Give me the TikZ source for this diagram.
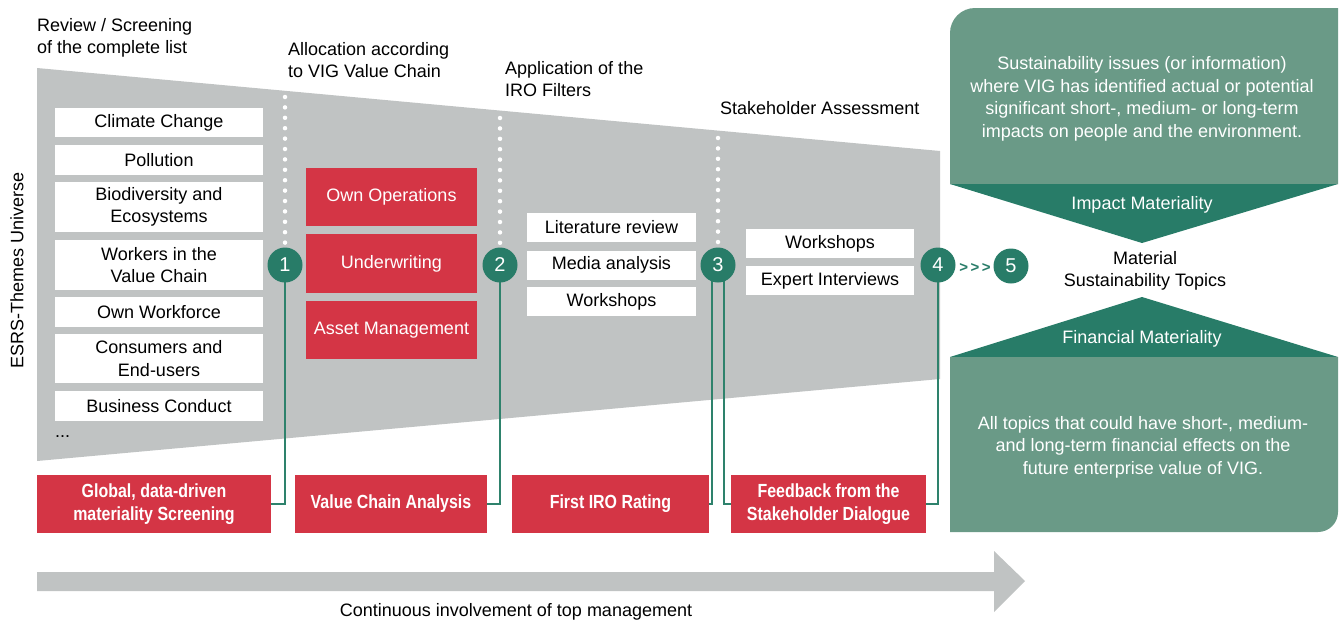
\documentclass[tikz,border=0pt]{standalone}
\usepackage{fontspec}
\setmainfont{Liberation Sans}
\newfontfamily\bnf{Liberation Sans}[FakeStretch=0.84]
\definecolor{vred}{RGB}{212,53,69}
\definecolor{vgray}{RGB}{192,195,195}
\definecolor{lgreen}{RGB}{106,154,135}
\definecolor{dgreen}{RGB}{40,124,104}
\definecolor{lgrn}{RGB}{46,130,108}
\pgfdeclarelayer{bg}
\pgfsetlayers{bg,main}
\tikzset{
  txt/.style={font=\fontsize{18}{22.5}\selectfont, text=black, inner sep=0pt},
  wbox/.style={txt, fill=white, minimum width=208pt, align=center},
  rbox/.style={txt, fill=vred, text=white, minimum width=171pt, minimum height=58pt, align=center},
  lbox/.style={txt, fill=white, minimum width=169pt, minimum height=29pt, align=center},
  sbox/.style={txt, fill=white, minimum width=168pt, minimum height=29pt, align=center},
  bbox/.style={font=\bnf\bfseries\fontsize{19}{23}\selectfont, fill=vred, text=white, minimum height=58pt, inner sep=0pt, align=center},
  num/.style={circle, fill=dgreen, text=white, minimum size=35pt, inner sep=0pt, font=\fontsize{20}{21}\selectfont},
  conn/.style={draw=lgrn, line width=1.8pt},
  dots/.style={draw=white, line width=4.5pt, line cap=round, dash pattern=on 0pt off 10.4pt},
  head/.style={txt, align=left, anchor=north west},
  wtxt/.style={txt, text=white, align=center},
}
\begin{document}
\begin{tikzpicture}[x=1pt,y=1pt]
\useasboundingbox (0,0) rectangle (1340,-624);
\begin{pgfonlayer}{bg}
\fill[vgray] (37,-68) -- (940,-151) -- (940,-379) -- (37,-461) -- cycle;
\draw[dots] (285,-97) -- (285,-246);
\draw[dots] (500,-118) -- (500,-246);
\draw[dots] (718,-138) -- (718,-246);
\end{pgfonlayer}
% headings
\node[head] (h1) at (37,-18) {Review / Screening\\of the complete list};
\node[head] (h2) at (288,-42) {Allocation according\\to VIG Value Chain};
\node[head] (h3) at (505,-61) {Application of the\\IRO Filters};
\node[head] (h4) at (720,-101) {Stakeholder Assessment};
\node[txt, rotate=90] (esrs) at (17,-270) {ESRS-Themes Universe};
% list
\node[wbox, minimum height=29pt] (cc) at (159,-122.5) {Climate Change};
\node[wbox, minimum height=30pt] (pol) at (159,-160) {Pollution};
\node[wbox, minimum height=50pt] (bio) at (159,-207) {Biodiversity and\\Ecosystems};
\node[wbox, minimum height=50pt] (wor) at (159,-265) {Workers in the\\Value Chain};
\node[wbox, minimum height=30pt] (own) at (159,-312) {Own Workforce};
\node[wbox, minimum height=49pt] (con) at (159,-358.5) {Consumers and\\End-users};
\node[wbox, minimum height=30pt] (bus) at (159,-406) {Business Conduct};
\node[txt, anchor=west] (dd) at (55,-437) {...};
% value chain
\node[rbox] (oo) at (391.5,-197) {Own Operations};
\node[rbox, minimum height=59pt] (uw) at (391.5,-263.5) {Underwriting};
\node[rbox] (am) at (391.5,-330) {Asset Management};
% IRO filters
\node[lbox] (lr) at (611.5,-227.5) {Literature review};
\node[lbox] (ma) at (611.5,-265) {Media analysis};
\node[lbox] (ws) at (611.5,-301.5) {Workshops};
% stakeholder
\node[sbox] (ws2) at (830,-243.5) {Workshops};
\node[sbox] (ei) at (830,-280.5) {Expert Interviews};
% bottom boxes
\node[bbox, minimum width=234pt] (g) at (154,-504) {Global, data-driven\\materiality Screening};
\node[bbox, minimum width=192pt] (v) at (391,-504) {Value Chain Analysis};
\node[bbox, minimum width=197pt] (f) at (610.5,-504) {First IRO Rating};
\node[bbox, minimum width=195pt] (fb) at (828.5,-504) {Feedback from the\\Stakeholder Dialogue};
% circles
\node[num] (c1) at (285,-265) {1};
\node[num] (c2) at (500,-265) {2};
\node[num] (c3) at (718,-265) {3};
\node[num] (c4) at (938,-265) {4};
\node[num] (c5) at (1011,-266) {5};
\node[inner sep=0pt, text=dgreen, font=\bfseries\fontsize{15}{16}\selectfont] (gt) at (975,-268) {>\,>\,>};
% connectors
\begin{pgfonlayer}{bg}
\draw[conn] (c1.center) |- (g.east);
\draw[conn] (c2.center) |- (v.east);
\draw[conn] ([xshift=-6pt]c3.center) |- (f.east);
\draw[conn] ([xshift=6pt]c3.center) |- (fb.west);
\draw[conn] (c4.center) |- (fb.east);
\end{pgfonlayer}
% right side
\fill[lgreen] (950,-184) -- (950,-33) arc[start angle=180, end angle=90, radius=25] -- (1338,-8) -- (1338,-184) -- cycle;
\fill[dgreen] (950,-184) -- (1338,-184) -- (1142,-243) -- cycle;
\fill[dgreen] (950,-357) -- (1338,-357) -- (1142,-297) -- cycle;
\fill[lgreen] (950,-357) -- (1338,-357) -- (1338,-512) arc[start angle=0, end angle=-90, radius=20] -- (950,-532) -- cycle;
\node[wtxt] (imp) at (1142,-99) {Sustainability issues (or information)\\where VIG has identified actual or potential\\significant short-, medium- or long-term\\impacts on people and the environment.};
\node[wtxt] (impm) at (1142,-205) {Impact Materiality};
\node[txt, align=center] (mst) at (1145,-271) {Material\\Sustainability Topics};
\node[wtxt] (finm) at (1142,-339) {Financial Materiality};
\node[wtxt] (fin) at (1143,-447) {All topics that could have short-, medium-\\and long-term financial effects on the\\future enterprise value of VIG.};
% big arrow
\fill[vgray] (37,-572) -- (994,-572) -- (994,-551) -- (1025,-581) -- (994,-612) -- (994,-591) -- (37,-591) -- cycle;
\node[txt] (cont) at (516,-612) {Continuous involvement of top management};
\end{tikzpicture}
\end{document}
